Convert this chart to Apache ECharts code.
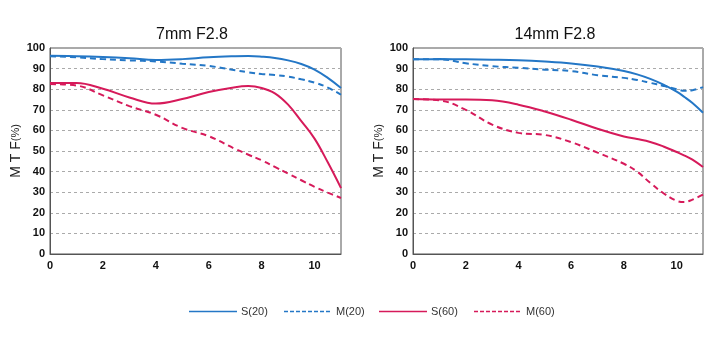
<!DOCTYPE html>
<html><head><meta charset="utf-8">
<script src="https://cdn.jsdelivr.net/npm/echarts@6/dist/echarts.min.js"></script>
<style>html,body{margin:0;padding:0;background:#fff}#c{width:720px;height:360px}</style>
</head><body><div id="c"></div>
<script>
// 7mm F2.8
const xA = [0,1,2,3,4,5,6,7,7.5,8,8.5,9,9.5,10,10.5,11];
const s20A = [96.2,96,95.6,95,94.2,94.6,95.5,96,96.1,95.8,95.2,94,92.2,89.5,85.5,80.6];
const m20A = [96,95.5,94.6,94,93.5,92.4,91.3,89.2,88.2,87.4,86.9,86.1,84.8,83.2,80.8,77.3];
const s60A = [83,83,80.2,76,73,75.2,78.6,81,81.5,80.6,78,72.5,64.5,56,44.5,32];
const m60A = [82.5,81.8,77,71.8,67.6,61.2,57.2,51,48.2,45.5,42.3,39,35.8,32.6,29.8,27.2];
// 14mm F2.8
const xB = [0,1,2,3,4,5,6,7,8,8.5,9,9.5,10,10.3,10.6,11];
const s20B = [94.5,94.6,94.5,94.3,94,93.4,92.5,91,88.8,87.2,85,82.2,78.8,76.2,73.3,68.6];
const m20B = [94.5,94.5,92.6,91.2,90.4,89.5,88.8,86.8,85.5,84.5,83.1,81.6,80,79.2,79.5,81];
const s60B = [75.2,75,75,74.6,72.5,69.2,65.2,60.8,57,55.8,54.4,52.2,49.5,47.8,45.8,42.2];
const m60B = [75.2,74.6,70,62.8,58.8,57.8,54.3,49.2,43.8,40,34.5,29.5,25.8,25.2,26.4,28.8];
const seriesNames = ['S(20)','M(20)','S(60)','M(60)'];
const titles = ['7mm F2.8','14mm F2.8'];
const xTicks = [0,2,4,6,8,10];

const BLUE = '#2477c6', RED = '#d61a5a';
const styles = [
  {color:BLUE,type:'solid'},{color:BLUE,type:[6,4]},
  {color:RED,type:'solid'},{color:RED,type:[6,4]}
];
const grids = [{left:50,width:291,top:48,height:206},{left:413,width:290,top:48,height:206}];
const font = 'Liberation Sans, Arial, sans-serif';

function pairs(xs, ys){ return xs.map((x,i)=>[x,ys[i]]); }
const dataSets = [[s20A,m20A,s60A,m60A],[s20B,m20B,s60B,m60B]];
const xsets = [xA,xB];

const series = [];
dataSets.forEach((set,gi)=>{
  set.forEach((ys,si)=>{
    series.push({
      name:seriesNames[si], type:'line', xAxisIndex:gi, yAxisIndex:gi,
      data:pairs(xsets[gi],ys), smooth:0.4, symbol:'none',
      lineStyle:{color:styles[si].color,type:styles[si].type,width:2},
      itemStyle:{color:styles[si].color}, z: 10-si
    });
  });
});

// legend drawn as graphic items (line sample + label)
const legendGraphic = [];
seriesNames.forEach((n,i)=>{
  const x0 = 189 + 95*i;
  legendGraphic.push({type:'line', shape:{x1:x0,y1:311.5,x2:x0+48,y2:311.5},
    style:{stroke:styles[i].color,lineWidth:1.5,lineDash:(i%2?[4,2]:null)}, silent:true});
  legendGraphic.push({type:'text', x:x0+52, y:312,
    style:{text:n,fill:'#333',font:'11px '+font,verticalAlign:'middle',align:'left'}, silent:true});
});

const option = {
  animation:false,
  textStyle:{fontFamily:font},
  title: titles.map((t,i)=>({text:t,left:(i===0?187:550),top:22,textAlign:'center',
    textStyle:{fontSize:16,fontWeight:'normal',color:'#111',fontFamily:font}})),
  grid: grids.map(g=>Object.assign({show:true,borderColor:'#555',borderWidth:1,backgroundColor:'transparent'},g)),
  xAxis: grids.map((g,i)=>({type:'value',gridIndex:i,min:0,max:11,interval:2,
    axisLine:{show:true,lineStyle:{color:'#555'}},axisTick:{show:false},
    splitLine:{show:false},
    axisLabel:{color:'#111',fontSize:11,fontWeight:'bold',margin:6,
      showMaxLabel:false, formatter:v=>xTicks.includes(v)?String(v):''}})),
  yAxis: grids.map((g,i)=>({type:'value',gridIndex:i,min:0,max:100,interval:10,
    name:'{a|M T F}{b|(%)}',nameLocation:'middle',nameGap:13,nameRotate:90,
    nameTextStyle:{color:'#222',fontFamily:font,rich:{a:{fontSize:14,color:'#222'},b:{fontSize:11,color:'#222'}}},
    axisLine:{show:true,lineStyle:{color:'#555'}},axisTick:{show:false},
    splitLine:{show:true,lineStyle:{color:'#aaa',type:[3,3],width:1}},
    axisLabel:{color:'#111',fontSize:11,fontWeight:'bold',margin:5}})),
  graphic: legendGraphic,
  series
};
const chart = echarts.init(document.getElementById('c'),null,{renderer:'canvas'});
chart.setOption(option);
</script></body></html>
